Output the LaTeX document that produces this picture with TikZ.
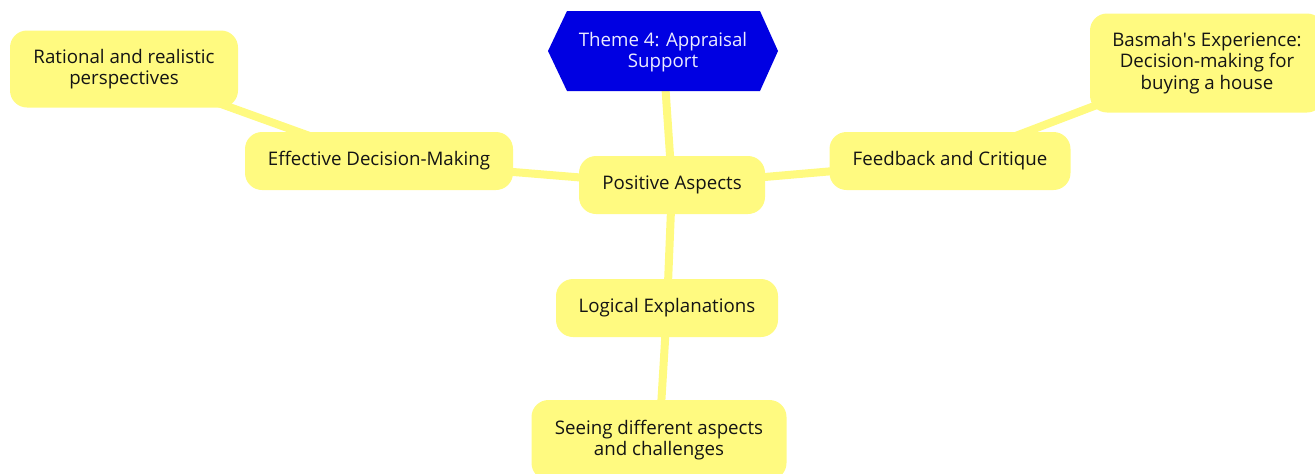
\documentclass[tikz,border=0pt]{standalone}
\usepackage{fontspec}
\setmainfont{Open Sans}
\usetikzlibrary{backgrounds}
\definecolor{mmyellow}{RGB}{255,250,128}
\definecolor{mmblue}{RGB}{0,0,226}
\definecolor{mmtext}{RGB}{20,20,20}
\tikzset{
  leaf/.style={rectangle, rounded corners=17pt, fill=mmyellow, text=mmtext, align=center, inner sep=0pt, font=\fontsize{18.7}{21.5}\selectfont},
  link/.style={draw=mmyellow, line width=8pt},
}
\begin{document}
\begin{tikzpicture}[x=1pt,y=-1pt]
\useasboundingbox (0,0) rectangle (1315,474);
% central theme hexagon
\fill[mmblue] (548,51) -- (567,11) -- (760,11) -- (778,51) -- (760,91) -- (567,91) -- cycle;
\node[align=center, inner sep=0pt, minimum width=230pt, minimum height=80pt, text=white!92!blue, font=\fontsize{18.7}{21.5}\selectfont] (theme) at (663,52) {Theme 4: Appraisal\\Support};

\node[leaf, minimum width=186pt, minimum height=58pt] (pos) at (672,185) {Positive Aspects};
\node[leaf, minimum width=268pt, minimum height=58pt] (eff) at (379,161) {Effective Decision-Making};
\node[leaf, minimum width=228pt, minimum height=77pt] (rat) at (124,69) {Rational and realistic\\perspectives};
\node[leaf, minimum width=241pt, minimum height=58pt] (feed) at (950,161) {Feedback and Critique};
\node[leaf, minimum width=234pt, minimum height=99pt] (bas) at (1207,63) {Basmah\textquotesingle s Experience:\\Decision-making for\\buying a house};
\node[leaf, minimum width=222pt, minimum height=58pt] (log) at (667,308) {Logical Explanations};
\node[leaf, minimum width=255pt, minimum height=80pt] (see) at (659,440) {Seeing different aspects\\and challenges};

\begin{scope}[on background layer]
  \draw[link] (pos.center) -- (theme.center);
  \draw[link] (pos.center) -- (eff.center);
  \draw[link] (pos.center) -- (feed.center);
  \draw[link] (pos.center) -- (log.center);
  \draw[link] (eff.center) -- (rat.center);
  \draw[link] (feed.center) -- (bas.center);
  \draw[link] (log.center) -- (see.center);
\end{scope}
\end{tikzpicture}
\end{document}
